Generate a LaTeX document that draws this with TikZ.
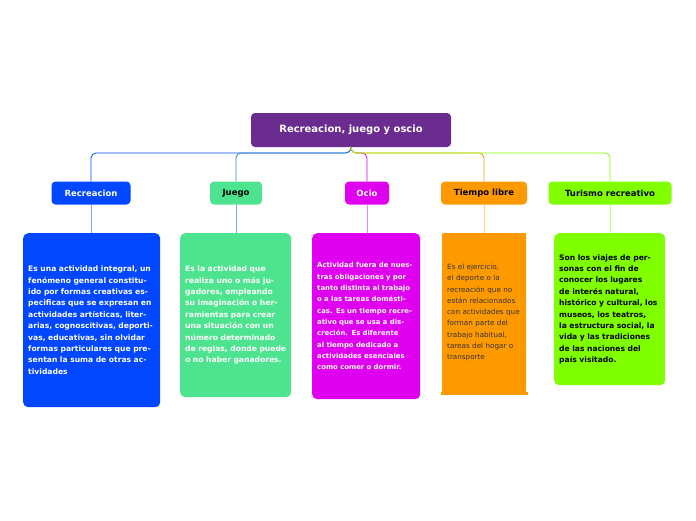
\documentclass[tikz,border=0pt]{standalone}
\usepackage{fontspec}
\setmainfont{DejaVu Sans}
\usetikzlibrary{positioning}
\definecolor{cRoot}{HTML}{6A2C8F}
\definecolor{cRec}{HTML}{0047FF}
\definecolor{cJue}{HTML}{4EE38F}
\definecolor{cOcio}{HTML}{E000F0}
\definecolor{cTie}{HTML}{FF9900}
\definecolor{cTur}{HTML}{7FFF00}
\begin{document}
\begin{tikzpicture}[
		x=1pt, y=-1pt,
		every node/.style={font=\fontsize{7.6}{11.4}\selectfont},
		topic/.style={rectangle, rounded corners=4pt, minimum height=23pt, font=\fontsize{8.5}{10}\selectfont\bfseries, inner sep=2pt},
		desc/.style={rectangle, rounded corners=5pt, anchor=north west, align=left, inner sep=5pt},
		link/.style={line width=0.8pt, rounded corners=5pt}
	]
	\useasboundingbox (0,0) rectangle (696,520);

	% Nodes
	\node[topic, fill=cRoot, text=white, minimum width=200pt, minimum height=34pt, font=\fontsize{10}{12}\selectfont\bfseries] (root) at (351,130) {Recreacion, juego y oscio};
	\node[topic, fill=cRec, text=white, minimum width=79pt] (rec) at (91,193) {Recreacion};
	\node[topic, fill=cJue, text=black, minimum width=52pt] (jue) at (236,193) {Juego};
	\node[topic, fill=cOcio, text=white, minimum width=44pt] (ocio) at (367,193) {Ocio};
	\node[topic, fill=cTie, text=black, minimum width=86pt] (tie) at (484,193) {Tiempo libre};
	\node[topic, fill=cTur, text=black, minimum width=123pt] (tur) at (610,193) {Turismo recreativo};

	\node[desc, fill=cRec, text=white, text width=127pt, minimum height=174pt, font=\fontsize{7.6}{11.4}\selectfont\bfseries] (drec) at (23,233) {Es una actividad integral, un fenómeno general constituido por formas creativas especificas que se expresan en actividades artísticas, literarias, cognoscitivas, deportivas, educativas, sin olvidar formas particulares que presentan la suma de otras actividades};
	\node[desc, fill=cJue, text=white, text width=101pt, minimum height=164pt, font=\fontsize{7.6}{11.4}\selectfont\bfseries] (djue) at (180,233) {Es la actividad que realiza uno o más jugadores, empleando su imaginación o herramientas para crear una situación con un número determinado de reglas, donde puede o no haber ganadores.};
	\node[desc, fill=cOcio, text=white, text width=98pt, minimum height=166pt, font=\fontsize{6.9}{11.3}\selectfont\bfseries] (docio) at (312,233) {Actividad fuera de nuestras obligaciones y por tanto distinta al trabajo o a las tareas domésticas. Es un tiempo recreativo que se usa a discreción. Es diferente al tiempo dedicado a actividades esenciales como comer o dormir.};
	\node[desc, fill=cTie, text=black!80, text width=74pt, minimum height=159pt, font=\fontsize{7.2}{11.3}\selectfont, rounded corners=1pt] (dtie) at (442,233) {Es el ejercicio, el deporte o la recreación que no están relacionados con actividades que forman parte del trabajo habitual, tareas del hogar o transporte};
	\node[desc, fill=cTur, text=black, text width=101pt, minimum height=152pt, font=\fontsize{7.6}{11.4}\selectfont\bfseries] (dtur) at (554,233) {Son los viajes de personas con el fin de conocer los lugares de interés natural, histórico y cultural, los museos, los teatros, la estructura social, la vida y las tradiciones de las naciones del país visitado.};
	\fill[cTie] (441,392) rectangle (528,395);

	% Connectors
	\draw[link, cRec] (root.south) |- (351,153) -| (rec.north);
	\draw[link, cJue!60!blue] (root.south) |- (351,153) -| (jue.north);
	\draw[link, cOcio] (root.south) |- (351,153) -| (ocio.north);
	\draw[link, cTie] (root.south) |- (351,153) -| (tie.north);
	\draw[link, cTur] (root.south) |- (351,153) -| (tur.north);

	\draw[cRec!50, line width=0.6pt] (rec) -- (rec |- drec.north);
	\draw[cRec!50, line width=0.6pt] (jue) -- (jue |- djue.north);
	\draw[cOcio!50, line width=0.6pt] (ocio) -- (ocio |- docio.north);
	\draw[cTie!50, line width=0.6pt] (tie) -- (tie |- dtie.north);
	\draw[cTur!50, line width=0.6pt] (tur) -- (tur |- dtur.north);
\end{tikzpicture}
\end{document}
